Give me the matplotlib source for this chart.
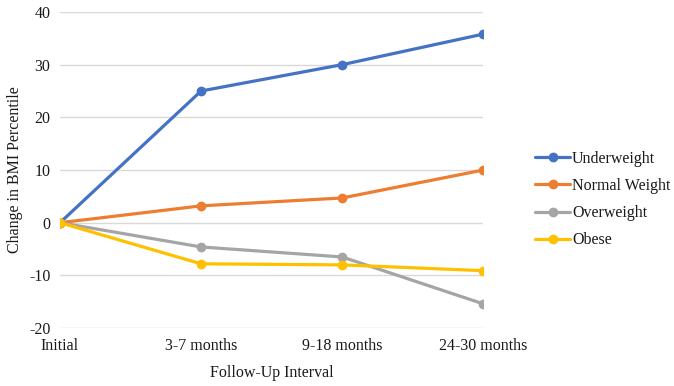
import matplotlib.pyplot as plt

intervals = ['Initial', '3-7 months', '9-18 months', '24-30 months']
underweight = [0, 25, 30, 35.8]
normal_weight = [0, 3.2, 4.7, 10]
overweight = [0, -4.6, -6.5, -15.4]
obese = [0, -7.8, -8.0, -9.1]

series = [
    ('Underweight', underweight, '#4472C4'),
    ('Normal Weight', normal_weight, '#ED7D31'),
    ('Overweight', overweight, '#A5A5A5'),
    ('Obese', obese, '#FFC000'),
]

plt.rcParams['font.family'] = ['Liberation Serif', 'DejaVu Serif']
plt.rcParams['axes.unicode_minus'] = False

fig = plt.figure(figsize=(6.74, 3.86), dpi=100)
ax = fig.add_axes([0.089, 0.150, 0.628, 0.819])

x = list(range(len(intervals)))
for name, vals, color in series:
    ax.plot(x, vals, color=color, lw=2.3, marker='o', ms=6, label=name,
            solid_capstyle='round')

ax.set_xlim(0, 3)
ax.set_ylim(-20, 40)
ax.set_yticks(range(-20, 41, 10))
ax.set_xticks(x)
ax.set_xticklabels(intervals)
ax.grid(axis='y', color='#D9D9D9', lw=1)
ax.set_axisbelow(True)
for s in ax.spines.values():
    s.set_visible(False)
ax.tick_params(length=0, labelsize=11.5, colors='#1a1a1a', pad=7)
ax.set_ylabel('Change in BMI Percentile', fontsize=11.5, color='#1a1a1a', labelpad=4)
ax.set_xlabel('Follow-Up Interval', fontsize=11.5, color='#1a1a1a', labelpad=8)

leg = fig.legend(loc='center left', bbox_to_anchor=(0.794, 0.483), frameon=False,
                 fontsize=11.5, handlelength=2.2, handletextpad=0.1, labelspacing=0.7,
                 borderpad=0, borderaxespad=0)
for t in leg.get_texts():
    t.set_color('#1a1a1a')

fig.savefig('out.png', dpi=100)
